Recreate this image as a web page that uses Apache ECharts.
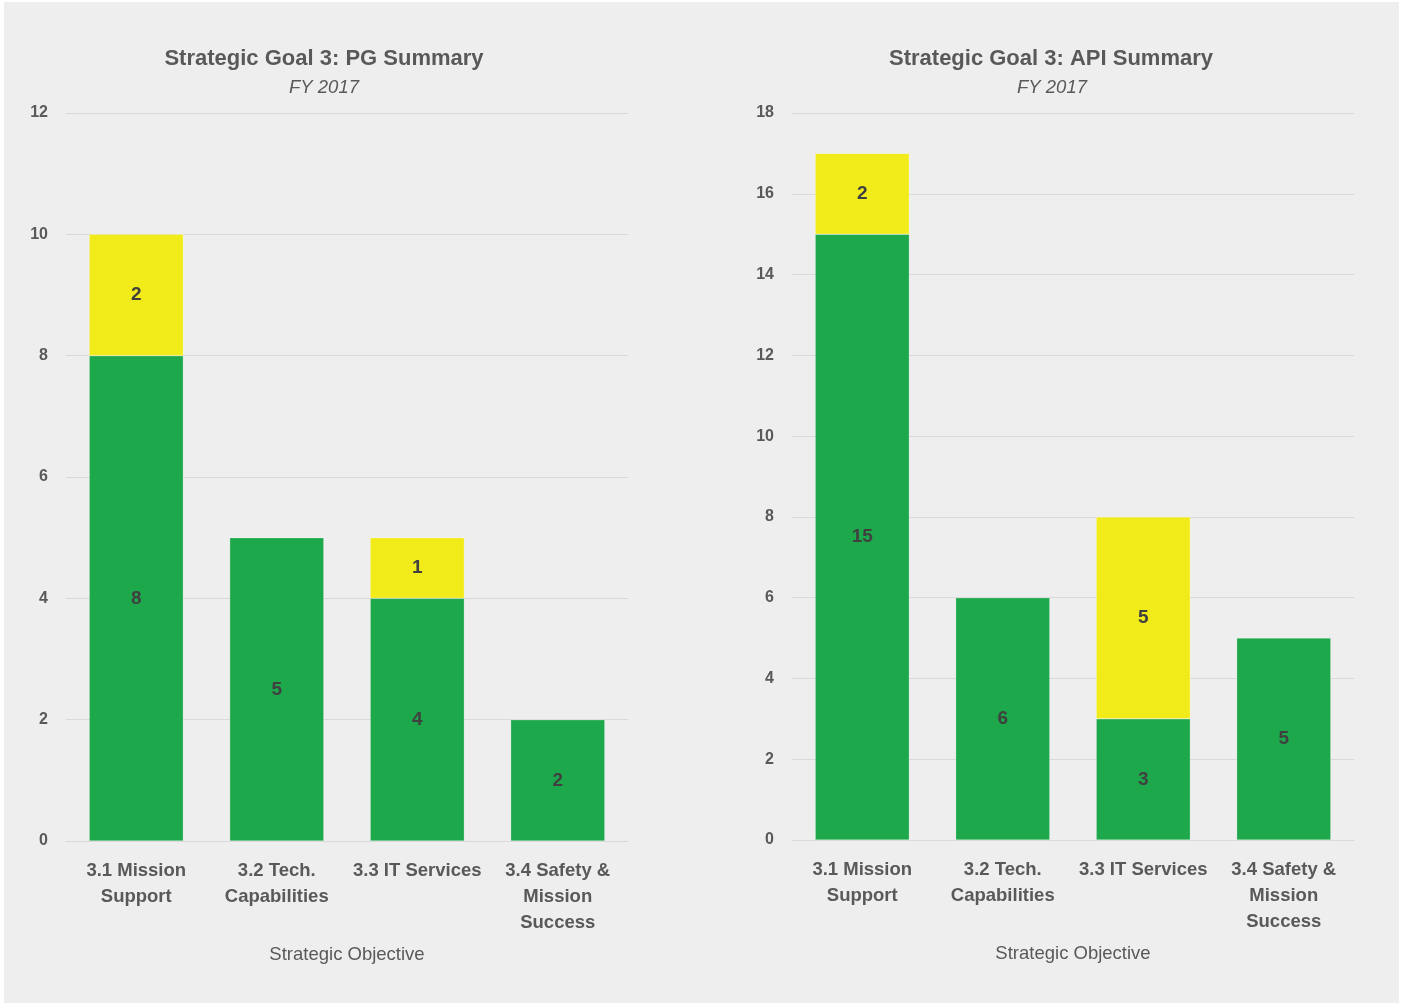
<!DOCTYPE html>
<html><head><meta charset="utf-8">
<script src="https://cdn.jsdelivr.net/npm/echarts@6/dist/echarts.min.js"></script>
<style>html,body{margin:0;padding:0;background:#fff;}#c{width:1403px;height:1005px;}</style>
</head><body><div id="c"></div>
<script>
const categories = ['3.1 Mission\nSupport', '3.2 Tech.\nCapabilities', '3.3 IT Services', '3.4 Safety &\nMission\nSuccess'];
const pgGreen = [8, 5, 4, 2];
const pgYellow = [2, null, 1, null];
const apiGreen = [15, 6, 3, 5];
const apiYellow = [2, null, 5, null];
const titles = ['Strategic Goal 3: PG Summary', 'Strategic Goal 3: API Summary'];
const subtitle = 'FY 2017';
const FONT = '"Liberation Sans Narrow", "Arial Narrow", "Liberation Sans", sans-serif';
const GREEN = '#1ea84c';
const YELLOW = '#f2eb1a';

function xAx(idx){
  return {type:'category', gridIndex:idx, data:categories,
    axisLine:{show:true, lineStyle:{color:'#d9d9d9'}}, axisTick:{show:false},
    axisLabel:{fontFamily:FONT, fontSize:18.5, fontWeight:'bold', color:'#595959', lineHeight:26, margin:17, interval:0},
    name:'Strategic Objective', nameLocation:'middle', nameGap:104,
    nameTextStyle:{fontFamily:FONT, fontSize:18.5, color:'#595959'}};
}
function yAx(idx, max, interval){
  return {type:'value', gridIndex:idx, min:0, max:max, interval:interval,
    axisLine:{show:false}, axisTick:{show:false},
    splitLine:{lineStyle:{color:'#d9d9d9', width:1}},
    axisLabel:{fontFamily:FONT, fontSize:16, fontWeight:'bold', color:'#595959', margin:18}};
}
function ser(data, color, idx){
  return {type:'bar', stack:'s'+idx, xAxisIndex:idx, yAxisIndex:idx, data:data, barWidth:'67%',
    itemStyle:{color:color, borderColor:'rgba(255,255,255,0.5)', borderWidth:0.5},
    label:{show:true, position:'inside', fontFamily:FONT, fontSize:19, fontWeight:'bold', color:'#404040'}};
}
function ttl(text, x){
  return {text:text, left:x, top:48, textAlign:'center', padding:0,
    textStyle:{fontFamily:FONT, fontSize:22, fontWeight:'bold', color:'#595959'}};
}
function sub(text, x){
  return {text:text, left:x, top:78, textAlign:'center', padding:0,
    textStyle:{fontFamily:FONT, fontSize:18.5, fontWeight:'normal', fontStyle:'italic', color:'#595959'}};
}
const chart = echarts.init(document.getElementById('c'), null, {renderer:'canvas'});
chart.setOption({
  animation:false,
  backgroundColor:'#ffffff',
  graphic:[{type:'rect', z:-10, shape:{x:4, y:2, width:1395, height:1001}, style:{fill:'#eeeeee'}}],
  title:[ttl(titles[0], 324), sub(subtitle, 324), ttl(titles[1], 1051), sub(subtitle, 1052)],
  grid:[
    {left:66, top:113, width:562, height:728},
    {left:792, top:113, width:562, height:727}
  ],
  xAxis:[xAx(0), xAx(1)],
  yAxis:[yAx(0, 12, 2), yAx(1, 18, 2)],
  series:[
    ser(pgGreen, GREEN, 0), ser(pgYellow, YELLOW, 0),
    ser(apiGreen, GREEN, 1), ser(apiYellow, YELLOW, 1)
  ]
});
</script></body></html>
